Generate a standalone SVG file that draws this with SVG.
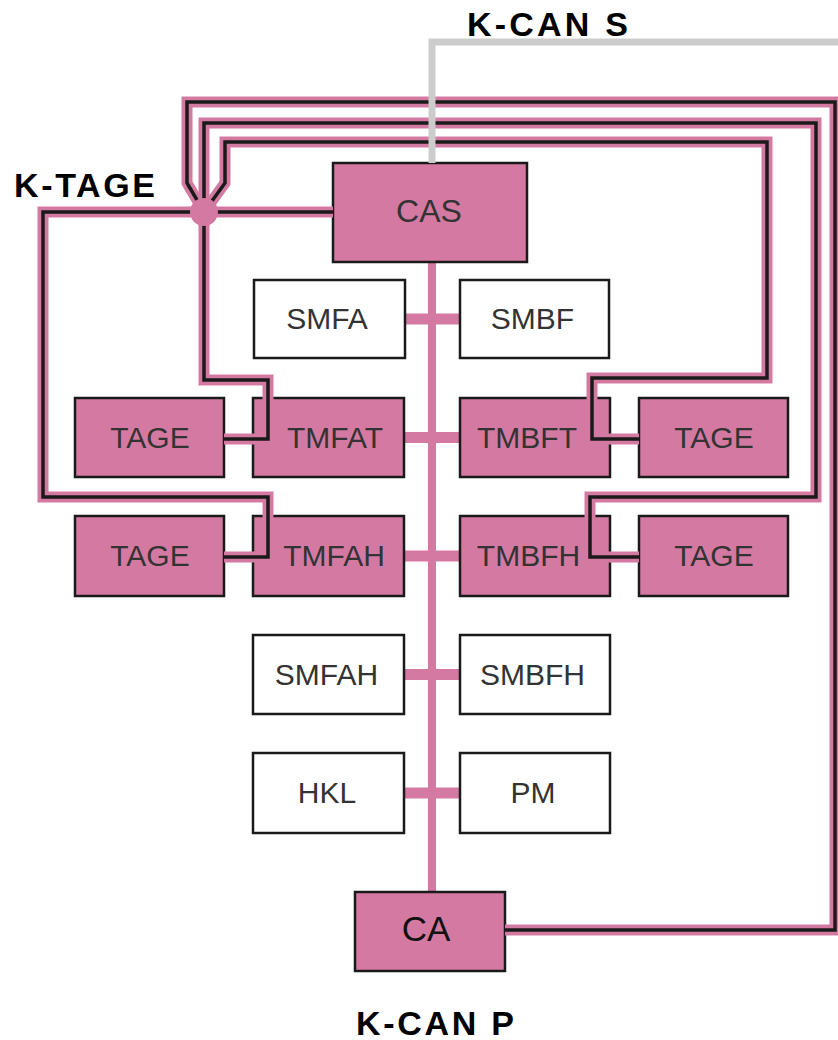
<svg xmlns="http://www.w3.org/2000/svg" width="838" height="1040" viewBox="0 0 838 1040">
<style>
.pk{fill:#D47AA2;stroke:#1a1a1a;stroke-width:2.5}
.wh{fill:#fff;stroke:#1a1a1a;stroke-width:2.5}
.t{font-family:"Liberation Sans",Arial,sans-serif;font-size:30px;fill:#333;text-anchor:middle}
.lbl{font-family:"Liberation Sans",Arial,sans-serif;font-weight:bold;font-size:34px;fill:#000}
.bus{stroke:#D47AA2;fill:none}
.case{stroke:#D47AA2;stroke-width:11;fill:none}
.core{stroke:#1a1a1a;stroke-width:3.5;fill:none}
</style>
<rect width="838" height="1040" fill="#fff"/>
<g id="bus">
<path class="bus" stroke-width="8" d="M432,262 V892"/>
<path class="bus" stroke-width="11" d="M404,319 H460 M404,437.5 H460 M404,556 H460 M404,674.5 H460 M404,793 H460"/>
</g>
<g id="CAS"><rect class="pk" x="333" y="163" width="194" height="99"/><text class="t" x="429" y="222" style="font-size:32px">CAS</text></g>
<g id="SMFA"><rect class="wh" x="254" y="280" width="151" height="78"/><text class="t" x="327" y="329">SMFA</text></g>
<g id="SMBF"><rect class="wh" x="460" y="280" width="149" height="78"/><text class="t" x="532.5" y="329">SMBF</text></g>
<g id="TAGE1"><rect class="pk" x="75" y="398" width="149" height="79"/><text class="t" x="150" y="448">TAGE</text></g>
<g id="TMFAT"><rect class="pk" x="253" y="398" width="151" height="79"/><text class="t" x="335" y="448">TMFAT</text></g>
<g id="TMBFT"><rect class="pk" x="460" y="398" width="150" height="79"/><text class="t" x="527" y="448">TMBFT</text></g>
<g id="TAGE2"><rect class="pk" x="639" y="398" width="149" height="79"/><text class="t" x="714" y="448">TAGE</text></g>
<g id="TAGE3"><rect class="pk" x="75" y="516" width="149" height="80"/><text class="t" x="150" y="566">TAGE</text></g>
<g id="TMFAH"><rect class="pk" x="253" y="516" width="151" height="80"/><text class="t" x="334" y="566">TMFAH</text></g>
<g id="TMBFH"><rect class="pk" x="460" y="516" width="150" height="80"/><text class="t" x="528.5" y="566">TMBFH</text></g>
<g id="TAGE4"><rect class="pk" x="639" y="516" width="149" height="80"/><text class="t" x="714" y="566">TAGE</text></g>
<g id="SMFAH"><rect class="wh" x="253" y="635" width="151" height="79"/><text class="t" x="326.5" y="685">SMFAH</text></g>
<g id="SMBFH"><rect class="wh" x="460" y="635" width="150" height="79"/><text class="t" x="532.5" y="685">SMBFH</text></g>
<g id="HKL"><rect class="wh" x="253" y="753" width="151" height="80"/><text class="t" x="327" y="803">HKL</text></g>
<g id="PM"><rect class="wh" x="460" y="753" width="150" height="80"/><text class="t" x="533" y="803">PM</text></g>
<g id="CA"><rect class="pk" x="355" y="892" width="150" height="79"/><text class="t" x="426" y="941" style="font-size:35px;fill:#111">CA</text></g>
<g id="connectors">
<g class="case">
<path d="M505,930 H835 V102 H187 V183 L204,212"/>
<path d="M204,212 V123 H816 V497 H590 V557 H639"/>
<path d="M204,212 L225,183 V142 H767 V378 H592 V439 H639"/>
<path d="M204,212 V380 H268 V439 H224"/>
<path d="M204,212 H43 V497 H268 V557 H224"/>
<path d="M204,212 H333"/>
</g>
<g class="core">
<path d="M505,930 H835 V102 H187 V183 L204,212"/>
<path d="M204,212 V123 H816 V497 H590 V557 H639"/>
<path d="M204,212 L225,183 V142 H767 V378 H592 V439 H639"/>
<path d="M204,212 V380 H268 V439 H224"/>
<path d="M204,212 H43 V497 H268 V557 H224"/>
<path d="M204,212 H333"/>
</g>
<circle id="junction" cx="204" cy="212" r="14" fill="#D47AA2"/>
<path d="M432,163 V42 H838" stroke="#cccccc" stroke-width="7" fill="none"/>
</g>
<g id="labels">
<text class="lbl" x="467" y="36" textLength="161" lengthAdjust="spacing">K-CAN S</text>
<text class="lbl" x="14" y="197" textLength="141" lengthAdjust="spacing">K-TAGE</text>
<text class="lbl" x="356" y="1035" textLength="158" lengthAdjust="spacing">K-CAN P</text>
</g>
</svg>
